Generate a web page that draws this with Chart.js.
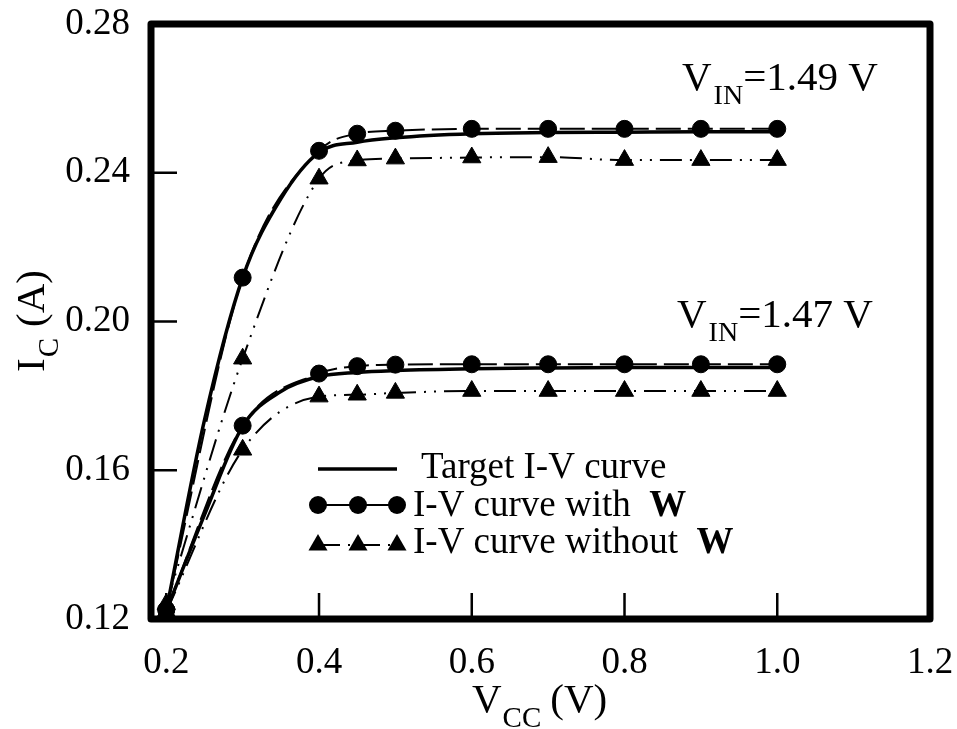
<!DOCTYPE html>
<html>
<head>
<meta charset="utf-8">
<title>I-V curves</title>
<script src="https://cdn.jsdelivr.net/npm/chart.js@4/dist/chart.umd.min.js"></script>
<style>
  html, body { margin: 0; padding: 0; background: #fff; }
  canvas { display: block; }
</style>
</head>
<body>
<canvas id="c" width="957" height="729"></canvas>
<script>
// Collector voltage sweep points (V)
const vccPoints = [0.2, 0.3, 0.4, 0.45, 0.5, 0.6, 0.7, 0.8, 0.9, 1.0];
const vccTarget = [0.2, 0.25, 0.3, 0.35, 0.4, 0.45, 0.5, 0.6, 0.7, 0.8, 0.9, 1.0];

// Collector current I_C (A), V_IN = 1.49 V
const target149 = [0.1222, 0.1735, 0.2118, 0.2330, 0.2455, 0.2482, 0.2494, 0.2505, 0.2508, 0.2509, 0.2510, 0.2510];
const withW149 = [0.1225, 0.2118, 0.2459, 0.2505, 0.2513, 0.2518, 0.2518, 0.2518, 0.2518, 0.2518];
const withoutW149 = [0.1240, 0.1900, 0.2384, 0.2433, 0.2438, 0.2441, 0.2442, 0.2434, 0.2434, 0.2434];

// Collector current I_C (A), V_IN = 1.47 V
const target147 = [0.1222, 0.1480, 0.1718, 0.1812, 0.1852, 0.1863, 0.1868, 0.1873, 0.1875, 0.1876, 0.1876, 0.1876];
const withW147 = [0.1225, 0.1720, 0.1860, 0.1880, 0.1884, 0.1885, 0.1885, 0.1885, 0.1885, 0.1885];
const withoutW147 = [0.1220, 0.1655, 0.1798, 0.1803, 0.1808, 0.1813, 0.1813, 0.1813, 0.1813, 0.1813];

// Axis ticks
const xTicks = [0.2, 0.4, 0.6, 0.8, 1.0, 1.2];
const yTicks = [0.12, 0.16, 0.20, 0.24, 0.28];

const SERIF = '"Liberation Serif", "Times New Roman", serif';

function pts(xs, ys) { return xs.map((x, i) => ({ x: x, y: ys[i] })); }

const targetStyle = {
  borderColor: '#000', borderWidth: 3.5, pointRadius: 0,
  showLine: true, cubicInterpolationMode: 'monotone', fill: false
};
const circleStyle = {
  borderColor: '#000', backgroundColor: '#000', borderWidth: 2, borderDash: [25, 7],
  pointStyle: 'circle', pointRadius: 8.5, pointBorderWidth: 1,
  pointBackgroundColor: '#000', pointBorderColor: '#000',
  showLine: true, cubicInterpolationMode: 'monotone', fill: false
};
const triangleStyle = {
  borderColor: '#000', backgroundColor: '#000', borderWidth: 2, borderDash: [22, 8, 2, 8, 2, 8],
  pointStyle: 'triangle', pointRadius: 10.5, pointBorderWidth: 1,
  pointBackgroundColor: '#000', pointBorderColor: '#000',
  showLine: true, cubicInterpolationMode: 'monotone', fill: false
};

// keep the plot frame at a fixed spot: no extra room for edge labels
function noEdgePadding(s) {
  s.paddingTop = 0; s.paddingBottom = 0; s.paddingLeft = 0; s.paddingRight = 0;
}

// Frame, inward ticks, legend and text labels
const decorations = {
  id: 'decorations',
  afterDatasetsDraw(chart) {
    const ctx = chart.ctx;
    const a = chart.chartArea;
    const xs = chart.scales.x, ys = chart.scales.y;
    ctx.save();
    ctx.strokeStyle = '#000';
    ctx.fillStyle = '#000';

    // inward tick marks
    ctx.lineWidth = 2.5;
    ctx.lineCap = 'butt';
    ctx.beginPath();
    xTicks.slice(0, -1).forEach(v => {
      const px = xs.getPixelForValue(v);
      ctx.moveTo(px, a.bottom);
      ctx.lineTo(px, a.bottom - 26);
    });
    yTicks.slice(1, -1).forEach(v => {
      const py = ys.getPixelForValue(v);
      ctx.moveTo(a.left, py);
      ctx.lineTo(a.left + 26, py);
    });
    ctx.stroke();

    // heavy frame
    ctx.lineWidth = 7;
    ctx.lineJoin = 'round';
    ctx.strokeRect(a.left, a.top, a.right - a.left, a.bottom - a.top);

    // curve labels
    function vin(x, y, rest) {
      ctx.textAlign = 'left';
      ctx.textBaseline = 'alphabetic';
      ctx.font = '41px ' + SERIF;
      ctx.fillText('V', x, y);
      const w = ctx.measureText('V').width;
      ctx.font = '28px ' + SERIF;
      ctx.fillText('IN', x + w + 2, y + 14);
      const w2 = ctx.measureText('IN').width;
      ctx.font = '41px ' + SERIF;
      ctx.fillText(rest, x + w + 2 + w2, y);
    }
    vin(682, 90, '=1.49 V');
    vin(677, 327, '=1.47 V');

    // legend
    ctx.font = '37px ' + SERIF;
    ctx.textBaseline = 'alphabetic';
    // row 1: target
    ctx.lineWidth = 3.5;
    ctx.setLineDash([]);
    ctx.beginPath();
    ctx.moveTo(318, 469); ctx.lineTo(397, 469);
    ctx.stroke();
    ctx.fillText('Target I-V curve', 421, 478);
    // row 2: with W
    ctx.lineWidth = 2;
    ctx.beginPath();
    ctx.moveTo(318, 505); ctx.lineTo(397, 505);
    ctx.stroke();
    [318, 358, 397].forEach(x => {
      ctx.beginPath(); ctx.arc(x, 505, 9, 0, Math.PI * 2); ctx.fill();
    });
    let t = 'I-V curve with  ';
    ctx.fillText(t, 413, 516);
    let tw = ctx.measureText(t).width;
    ctx.font = 'bold 37px ' + SERIF;
    ctx.fillText('W', 413 + tw, 516);
    // row 3: without W
    ctx.font = '37px ' + SERIF;
    ctx.lineWidth = 2;
    ctx.setLineDash([22, 8, 2, 8]);
    ctx.beginPath();
    ctx.moveTo(318, 545); ctx.lineTo(397, 545);
    ctx.stroke();
    ctx.setLineDash([]);
    [318, 358, 397].forEach(x => {
      const r = 11;
      ctx.beginPath();
      ctx.moveTo(x, 545 - r);
      ctx.lineTo(x + r * 0.866, 545 + r * 0.5);
      ctx.lineTo(x - r * 0.866, 545 + r * 0.5);
      ctx.closePath();
      ctx.fill();
    });
    t = 'I-V curve without  ';
    ctx.fillText(t, 413, 553);
    tw = ctx.measureText(t).width;
    ctx.font = 'bold 37px ' + SERIF;
    ctx.fillText('W', 413 + tw, 553);

    // x axis title: V_CC (V)
    ctx.font = '41px ' + SERIF;
    ctx.fillText('V', 472, 712);
    const vw = ctx.measureText('V').width;
    ctx.font = '29px ' + SERIF;
    ctx.fillText('CC', 472 + vw + 1, 727);
    const ccw = ctx.measureText('CC').width;
    ctx.font = '41px ' + SERIF;
    ctx.fillText('(V)', 472 + vw + ccw + 10, 712);

    // y axis title: I_C (A)
    ctx.translate(44, 372);
    ctx.rotate(-Math.PI / 2);
    ctx.font = '41px ' + SERIF;
    ctx.fillText('I', 0, 0);
    const iw = ctx.measureText('I').width;
    ctx.font = '29px ' + SERIF;
    ctx.fillText('C', iw + 1, 14);
    const cw = ctx.measureText('C').width;
    ctx.font = '41px ' + SERIF;
    ctx.fillText('(A)', iw + cw + 12, 0);

    ctx.restore();
  }
};

new Chart(document.getElementById('c'), {
  type: 'scatter',
  data: {
    datasets: [
      Object.assign({ label: 'Target 1.49', data: pts(vccTarget, target149) }, targetStyle),
      Object.assign({ label: 'Target 1.47', data: pts(vccTarget, target147) }, targetStyle),
      Object.assign({ label: 'With W 1.49', data: pts(vccPoints, withW149) }, circleStyle),
      Object.assign({ label: 'With W 1.47', data: pts(vccPoints, withW147) }, circleStyle),
      Object.assign({ label: 'Without W 1.49', data: pts(vccPoints, withoutW149) }, triangleStyle),
      Object.assign({ label: 'Without W 1.47', data: pts(vccPoints, withoutW147) }, triangleStyle)
    ]
  },
  options: {
    responsive: false,
    devicePixelRatio: 1,
    animation: false,
    layout: { padding: { top: 24, right: 27, left: 0, bottom: 0 } },
    plugins: { legend: { display: false }, tooltip: { enabled: false } },
    scales: {
      x: {
        type: 'linear', position: 'bottom', min: 0.18, max: 1.2,
        grid: { display: false, drawTicks: false }, border: { display: false },
        afterBuildTicks: s => { s.ticks = xTicks.map(v => ({ value: v })); },
        afterFit: s => { s.height = 110; noEdgePadding(s); },
        ticks: {
          autoSkip: false, maxRotation: 0, color: '#000', padding: 22,
          font: { family: SERIF, size: 37 },
          callback: v => Number(v).toFixed(1)
        }
      },
      y: {
        type: 'linear', position: 'left', min: 0.12, max: 0.28,
        grid: { display: false, drawTicks: false }, border: { display: false },
        afterBuildTicks: s => { s.ticks = yTicks.map(v => ({ value: v })); },
        afterFit: s => { s.width = 151; noEdgePadding(s); },
        ticks: {
          autoSkip: false, color: '#000', padding: 21,
          font: { family: SERIF, size: 37 },
          callback: v => Number(v).toFixed(2)
        }
      }
    }
  },
  plugins: [decorations]
});
</script>
</body>
</html>
